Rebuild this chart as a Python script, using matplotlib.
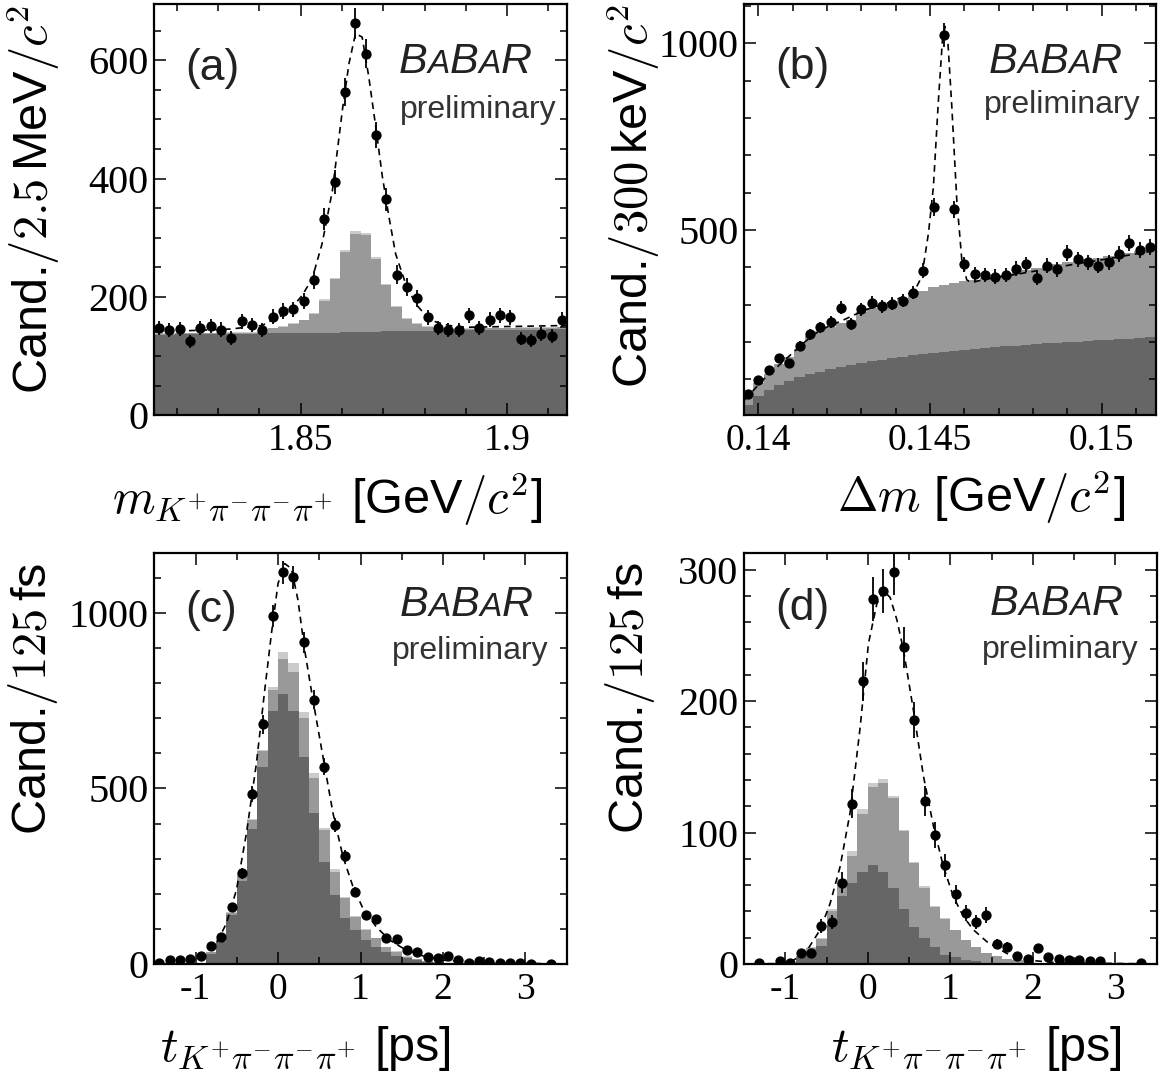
import numpy as np
import matplotlib
matplotlib.use("Agg")
import matplotlib.pyplot as plt
from matplotlib.ticker import MultipleLocator
from matplotlib.offsetbox import TextArea, HPacker, AnchoredOffsetbox

plt.rcParams['font.family'] = ['Liberation Sans', 'DejaVu Sans']
plt.rcParams['mathtext.fontset'] = 'cm'
plt.rcParams['axes.unicode_minus'] = False

DARK = '#666666'
MED = '#999999'
LIGHT = '#cbcbcb'

# ---------------- (a) m(K pi pi pi), 2.5 MeV bins from 1.8145 ----------------
a_edges0, a_bw = 1.8145, 0.0025
a_data = [148, 144, 146, 125, 148, 151, 145, 131, 159, 153, 144, 167, 176, 179, 193, 229,
          332, 394, 546, 662, 611, 474, 365, 238, 217, 198, 166, 148, 144, 144, 169, 148,
          162, 169, 166, 130, 127, 138, 134, 162]
a_dark = [136, 136, 137, 137, 137, 137, 138, 138, 138, 138, 139, 139, 139, 139, 140, 140,
          140, 140, 141, 141, 141, 141, 142, 142, 142, 142, 143, 143, 143, 143, 144, 144,
          144, 144, 145, 145, 145, 145, 146, 146]
a_med = [138, 138, 139, 139, 139, 139, 140, 140, 140, 140, 141, 147, 150, 155, 161, 172,
         194, 231, 276, 307, 304, 265, 220, 184, 163, 155, 150, 146, 146, 146, 146, 147,
         147, 147, 147, 148, 148, 148, 148, 149]
a_light = [139, 139, 140, 140, 140, 140, 141, 141, 141, 141, 142, 148, 151, 156, 162, 173,
           196, 233, 279, 311, 308, 268, 222, 185, 164, 156, 151, 147, 147, 147, 147, 148,
           148, 148, 148, 149, 149, 149, 149, 150]
a_fit_x = [1.8145, 1.8330, 1.8407, 1.8431, 1.8455, 1.8480, 1.8504, 1.8528, 1.8552, 1.8577,
           1.8601, 1.8617, 1.8633, 1.8649, 1.8665, 1.8682, 1.8698, 1.8714, 1.8730, 1.8754,
           1.8778, 1.8803, 1.8827, 1.8859, 1.8900, 1.9145]
a_fit_y = [141, 146, 152, 161, 169, 183, 203, 231, 290, 380, 515, 594, 645, 639, 572, 487,
           403, 335, 273, 223, 189, 169, 158, 152, 149, 152]

# ---------------- (b) delta m, 300 keV bins from 0.13955 ----------------
b_edges0, b_bw = 0.13955, 0.0003
b_data = [61, 98, 125, 156, 143, 189, 220, 239, 254, 292, 248, 287, 305, 295, 302, 311,
          332, 391, 561, 1022, 555, 408, 382, 379, 375, 379, 396, 408, 371, 404, 395, 438,
          421, 413, 404, 413, 435, 466, 446, 454]
b_dark = [30, 55, 71, 84, 95, 105, 113, 120, 127, 133, 139, 144, 149, 153, 157, 161,
          164, 167, 170, 173, 176, 179, 181, 184, 186, 188, 190, 192, 194, 196, 198, 200,
          201, 203, 204, 206, 207, 209, 210, 212]
b_med = [50, 90, 115, 140, 160, 180, 215, 230, 240, 252, 260, 280, 290, 296, 302, 317,
         330, 337, 348, 353, 357, 362, 366, 371, 375, 379, 386, 393, 399, 404, 409, 413,
         417, 421, 426, 430, 435, 439, 443, 446]
b_fit_x = [0.13960, 0.13985, 0.14015, 0.14045, 0.14075, 0.14105, 0.14135, 0.14165, 0.14195,
           0.14225, 0.14255, 0.14285, 0.14315, 0.14345, 0.14375, 0.14405, 0.14435, 0.144564,
           0.144758, 0.144952, 0.145097, 0.145243, 0.145360, 0.145438, 0.145515, 0.145633,
           0.145778, 0.145924, 0.146069, 0.146214, 0.1465, 0.1470, 0.1475, 0.1480, 0.1485,
           0.1490, 0.1495, 0.1500, 0.1505, 0.1510, 0.15158]
b_fit_y = [45, 70, 100, 125, 150, 175, 200, 222, 238, 250, 262, 275, 287, 296, 304, 315,
           328, 340, 375, 491, 616, 848, 1009, 1045, 1009, 830, 580, 420, 366, 359, 366,
           374, 381, 389, 397, 405, 413, 420, 428, 436, 445]

# ---------------- (c), (d) decay time, 125 fs bins from -1.5 ----------------
t_edges0, t_bw = -1.5, 0.125
c_data = [2, 11, 11, 13, 23, 52, 78, 161, 258, 484, 682, 991, 1115, 1101, 916, 753, 562,
          396, 308, 206, 139, 127, 75, 71, 40, 33, 21, 18, 23, 11, 4, 9, 5, 2, 2, 2, 1, 0,
          1, 0]
c_dark = [0, 0, 0, 1, 2, 28, 63, 139, 236, 383, 560, 720, 770, 720, 589, 429, 291, 196,
          132, 97, 68, 49, 35, 23, 16, 10, 6, 4, 3, 2, 1, 1, 1, 0, 0, 0, 0, 0, 0, 0]
c_med = [0, 0, 0, 1, 3, 33, 68, 144, 250, 411, 607, 780, 868, 832, 700, 529, 381, 263,
         187, 135, 97, 73, 47, 35, 21, 14, 9, 6, 4, 3, 2, 1, 1, 0, 0, 0, 0, 0, 0, 0]
c_light = [0, 0, 0, 1, 4, 35, 70, 149, 256, 414, 609, 789, 887, 856, 717, 543, 386, 271,
           192, 138, 99, 75, 49, 36, 22, 15, 9, 6, 4, 3, 2, 1, 1, 0, 0, 0, 0, 0, 0, 0]
c_fit_x = [-1.5, -1.2, -0.949, -0.747, -0.625, -0.504, -0.383, -0.262, -0.161, -0.080, 0.0,
           0.081, 0.162, 0.242, 0.323, 0.424, 0.545, 0.667, 0.788, 0.909, 1.030, 1.190,
           1.354, 1.515, 1.758, 2.0, 2.485, 3.5]
c_fit_y = [0, 2, 16, 59, 116, 211, 372, 571, 780, 941, 1083, 1140, 1126, 1036, 894, 751,
           590, 429, 305, 220, 158, 106, 68, 45, 23, 11, 4, 0]

d_data = [0, 1, 0, 2, 1, 8, 8, 29, 32, 62, 122, 215, 278, 284, 298, 241, 186, 124, 98, 75,
          53, 39, 32, 37, 15, 13, 6, 4, 12, 5, 4, 3, 3, 2, 2, 0, 0, 0, 1, 0]
d_dark = [0, 0, 0, 0, 1, 5, 10, 14, 30, 52, 62, 70, 75, 70, 58, 42, 28, 20, 13, 7, 5, 3,
          2, 1, 1, 0, 0, 0, 0, 0, 0, 0, 0, 0, 0, 0, 0, 0, 0, 0]
d_med = [0, 0, 0, 0, 1, 6, 12, 19, 40, 62, 82, 114, 135, 138, 126, 101, 77, 58, 43, 34,
         26, 18, 13, 8, 6, 4, 3, 2, 1, 1, 0, 0, 0, 0, 0, 0, 0, 0, 0, 0]
d_light = [0, 0, 0, 0, 1, 6, 13, 20, 42, 65, 86, 118, 138, 141, 128, 102, 78, 59, 44, 35,
           26, 18, 13, 8, 6, 4, 3, 2, 1, 1, 0, 0, 0, 0, 0, 0, 0, 0, 0, 0]
d_fit_x = [-1.5, -1.1, -0.942, -0.740, -0.578, -0.457, -0.336, -0.215, -0.093, 0.008, 0.109,
           0.190, 0.270, 0.352, 0.432, 0.553, 0.674, 0.795, 0.916, 1.038, 1.159, 1.280,
           1.442, 1.685, 1.927, 2.290, 3.5]
d_fit_y = [0, 0.3, 1, 10, 26, 46, 74, 115, 180, 244, 274, 284, 279, 262, 239, 193, 143, 105,
           74, 51, 36, 26, 17, 8, 3, 1, 0]


def draw_panel(ax, x0, bw, data, dark, med, light, fx, fy):
    data = np.array(data, float)
    n = len(data)
    edges = x0 + bw * np.arange(n + 1)
    centers = x0 + bw * (np.arange(n) + 0.5)
    if light is not None:
        ax.stairs(light, edges, fill=True, color=LIGHT, lw=0)
    ax.stairs(med, edges, fill=True, color=MED, lw=0)
    ax.stairs(dark, edges, fill=True, color=DARK, lw=0)
    ax.plot(fx, fy, color='k', lw=1.2, ls=(0, (4, 3)))
    m = data > 0
    ax.errorbar(centers[m], data[m], yerr=np.sqrt(data[m]), fmt='o', ms=6.4, color='k',
                elinewidth=1.3, capsize=0)


def style(ax, xlim, ylim, xt, xtl, xminor, yt, yminor):
    ax.set_xlim(*xlim)
    ax.set_ylim(*ylim)
    ax.set_xticks(xt)
    ax.set_xticklabels(xtl)
    ax.set_yticks(yt)
    ax.set_yticklabels([str(v) for v in yt])
    ax.xaxis.set_minor_locator(MultipleLocator(xminor))
    ax.yaxis.set_minor_locator(MultipleLocator(yminor))
    ax.tick_params(which='both', direction='in', top=True, right=True, width=1.1)
    ax.tick_params(which='major', length=8.5)
    ax.tick_params(which='minor', length=5)
    ax.tick_params(axis='x', pad=6)
    ax.tick_params(axis='y', pad=4)
    for lab in ax.get_xticklabels():
        lab.set_family('Liberation Serif')
        lab.set_fontsize(27)
    for lab in ax.get_yticklabels():
        lab.set_family('Liberation Serif')
        lab.set_fontsize(29)
    for s in ax.spines.values():
        s.set_linewidth(1.6)


def logo(ax, bx, by, px, py):
    big = dict(fontsize=31, style='italic', family='Liberation Sans', color='#222222')
    small = dict(fontsize=24, style='italic', family='Liberation Sans', color='#222222')
    parts = [TextArea('B', textprops=big), TextArea('A', textprops=small),
             TextArea('B', textprops=big), TextArea('A', textprops=small),
             TextArea('R', textprops=big)]
    box = HPacker(children=parts, align='baseline', pad=0, sep=0)
    ab = AnchoredOffsetbox(loc='lower right', child=box, frameon=False, pad=0, borderpad=0,
                           bbox_to_anchor=(bx, by), bbox_transform=ax.transAxes)
    ax.add_artist(ab)
    ax.text(px, py, 'preliminary', transform=ax.transAxes, ha='right', va='baseline',
            fontsize=23, color='#333333')


fig = plt.figure(figsize=(11.59, 10.76), dpi=100)
W, H = 1159., 1076.
axa = fig.add_axes([154 / W, 1 - 415.5 / H, 413 / W, 411 / H])
axb = fig.add_axes([744 / W, 1 - 415.5 / H, 412 / W, 411 / H])
axc = fig.add_axes([154.3 / W, 1 - 964 / H, 412.4 / W, 411.3 / H])
axd = fig.add_axes([744 / W, 1 - 964 / H, 412.7 / W, 411.3 / H])

draw_panel(axa, a_edges0, a_bw, a_data, a_dark, a_med, a_light, a_fit_x, a_fit_y)
style(axa, (1.8145, 1.9145), (0, 694), [1.85, 1.9], ['1.85', '1.9'], 0.01, [0, 200, 400, 600], 50)

draw_panel(axb, b_edges0, b_bw, b_data, b_dark, b_med, None, b_fit_x, b_fit_y)
style(axb, (0.13958, 0.15158), (3, 1104), [0.14, 0.145, 0.15], ['0.14', '0.145', '0.15'], 0.001,
      [500, 1000], 100)

draw_panel(axc, t_edges0, t_bw, c_data, c_dark, c_med, c_light, c_fit_x, c_fit_y)
style(axc, (-1.5, 3.5), (0, 1171), [-1, 0, 1, 2, 3], ['-1', '0', '1', '2', '3'], 0.5,
      [0, 500, 1000], 100)

draw_panel(axd, t_edges0, t_bw, d_data, d_dark, d_med, d_light, d_fit_x, d_fit_y)
style(axd, (-1.5, 3.5), (0, 313), [-1, 0, 1, 2, 3], ['-1', '0', '1', '2', '3'], 0.5,
      [0, 100, 200, 300], 20)

# panel tags and logos
for ax, lab, ly in [(axa, '(a)', 0.817), (axb, '(b)', 0.818), (axc, '(c)', 0.831), (axd, '(d)', 0.836)]:
    ax.text(0.075, ly, lab, transform=ax.transAxes, fontsize=32, color='#222222', va='baseline')

logo(axa, 0.915, 0.812, 0.976, 0.724)
logo(axb, 0.917, 0.812, 0.963, 0.737)
logo(axc, 0.917, 0.824, 0.956, 0.742)
logo(axd, 0.917, 0.827, 0.956, 0.745)

# axis titles
lab_fs = 35
axa.text(-0.293, 1.0, r'Cand.$/2.5\,$MeV$/c^2$', transform=axa.transAxes, rotation=90,
         ha='center', va='top', fontsize=lab_fs)
axb.text(-0.268, 1.0, r'Cand.$/300\,$keV$/c^2$', transform=axb.transAxes, rotation=90,
         ha='center', va='top', fontsize=lab_fs)
axc.text(-0.294, 0.975, r'Cand.$/125\,$fs', transform=axc.transAxes, rotation=90,
         ha='center', va='top', fontsize=lab_fs)
axd.text(-0.277, 0.978, r'Cand.$/125\,$fs', transform=axd.transAxes, rotation=90,
         ha='center', va='top', fontsize=lab_fs)

axa.text(0.942, -0.239, r'$m_{K^{+}\pi^{-}\pi^{-}\pi^{+}}$ [GeV$/c^2$]', transform=axa.transAxes,
         ha='right', va='baseline', fontsize=lab_fs)
axb.text(0.925, -0.236, r'$\Delta m$ [GeV$/c^2$]', transform=axb.transAxes,
         ha='right', va='baseline', fontsize=lab_fs)
axc.text(0.72, -0.236, r'$t_{K^{+}\pi^{-}\pi^{-}\pi^{+}}$ [ps]', transform=axc.transAxes,
         ha='right', va='baseline', fontsize=lab_fs)
axd.text(0.915, -0.236, r'$t_{K^{+}\pi^{-}\pi^{-}\pi^{+}}$ [ps]', transform=axd.transAxes,
         ha='right', va='baseline', fontsize=lab_fs)

fig.savefig('out.png', dpi=100)
